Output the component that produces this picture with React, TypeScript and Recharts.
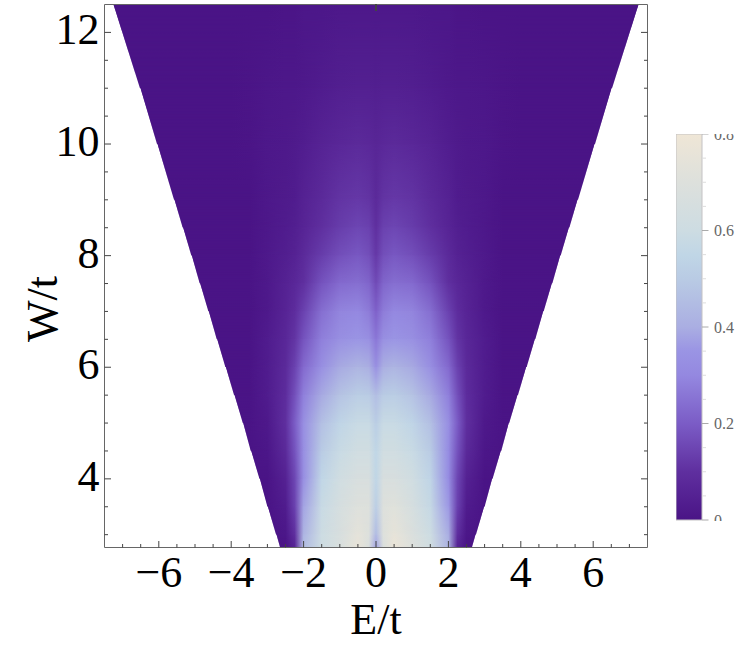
import React from 'react';
import { BarChart, Bar, ComposedChart, ReferenceArea, XAxis, YAxis } from 'recharts';

// E/t positions of the columns, denser near the band edges and the centre dip
const energies = [-7, -6, -5, -4, -3.5, -3, -2.5, -2.25, -2, -1.5, -1, -0.5, -0.2, 0, 0.2, 0.5, 1, 1.5, 2, 2.25, 2.5, 3, 3.5, 4, 5, 6, 7];
const disorder = [2.77, 3, 3.5, 4, 4.5, 5, 5.5, 6, 6.5, 7, 7.5, 8, 8.5, 9, 10, 11, 12.5];
// half width of the filled wedge at each W
const bandEdge = [2.65, 2.76, 3.0, 3.22, 3.46, 3.68, 3.92, 4.16, 4.4, 4.63, 4.87, 5.1, 5.34, 5.58, 6.05, 6.52, 7.25];

const intensity = [
  [0, 0, 0, 0, 0, 0, 0, 0.06, 0.45, 0.6, 0.67, 0.76, 0.68, 0.38, 0.68, 0.78, 0.7, 0.62, 0.42, 0.06, 0, 0, 0, 0, 0, 0, 0],
  [0, 0, 0, 0, 0, 0, 0.01, 0.1, 0.42, 0.6, 0.66, 0.74, 0.7, 0.45, 0.7, 0.75, 0.68, 0.6, 0.4, 0.1, 0.01, 0, 0, 0, 0, 0, 0],
  [0, 0, 0, 0, 0, 0, 0.03, 0.14, 0.38, 0.58, 0.65, 0.7, 0.7, 0.52, 0.7, 0.71, 0.65, 0.57, 0.36, 0.14, 0.03, 0, 0, 0, 0, 0, 0],
  [0, 0, 0, 0, 0, 0, 0.05, 0.15, 0.33, 0.55, 0.62, 0.66, 0.66, 0.55, 0.66, 0.66, 0.62, 0.54, 0.32, 0.15, 0.05, 0, 0, 0, 0, 0, 0],
  [0, 0, 0, 0, 0, 0.01, 0.08, 0.18, 0.33, 0.5, 0.58, 0.62, 0.62, 0.55, 0.62, 0.62, 0.58, 0.5, 0.32, 0.18, 0.08, 0.01, 0, 0, 0, 0, 0],
  [0, 0, 0, 0, 0, 0.02, 0.1, 0.2, 0.33, 0.46, 0.54, 0.58, 0.58, 0.51, 0.58, 0.58, 0.54, 0.46, 0.33, 0.2, 0.1, 0.02, 0, 0, 0, 0, 0],
  [0, 0, 0, 0, 0, 0.03, 0.09, 0.17, 0.28, 0.39, 0.47, 0.51, 0.5, 0.45, 0.5, 0.51, 0.47, 0.39, 0.28, 0.17, 0.09, 0.03, 0, 0, 0, 0, 0],
  [0, 0, 0, 0, 0, 0.03, 0.08, 0.14, 0.23, 0.33, 0.39, 0.42, 0.4, 0.33, 0.4, 0.42, 0.39, 0.33, 0.23, 0.14, 0.08, 0.03, 0, 0, 0, 0, 0],
  [0, 0, 0, 0, 0, 0.03, 0.07, 0.11, 0.18, 0.28, 0.33, 0.35, 0.33, 0.26, 0.33, 0.35, 0.33, 0.28, 0.18, 0.11, 0.07, 0.03, 0, 0, 0, 0, 0],
  [0, 0, 0, 0, 0, 0.02, 0.06, 0.09, 0.14, 0.24, 0.29, 0.3, 0.27, 0.21, 0.27, 0.3, 0.29, 0.24, 0.14, 0.09, 0.06, 0.02, 0, 0, 0, 0, 0],
  [0, 0, 0, 0, 0, 0.02, 0.05, 0.07, 0.1, 0.18, 0.23, 0.24, 0.22, 0.16, 0.22, 0.24, 0.23, 0.18, 0.1, 0.07, 0.05, 0.02, 0, 0, 0, 0, 0],
  [0, 0, 0, 0, 0, 0.02, 0.04, 0.05, 0.08, 0.13, 0.17, 0.19, 0.17, 0.12, 0.17, 0.19, 0.17, 0.13, 0.08, 0.05, 0.04, 0.02, 0, 0, 0, 0, 0],
  [0, 0, 0, 0, 0, 0.015, 0.03, 0.04, 0.06, 0.1, 0.13, 0.15, 0.14, 0.1, 0.14, 0.15, 0.13, 0.1, 0.06, 0.04, 0.03, 0.015, 0, 0, 0, 0, 0],
  [0, 0, 0, 0, 0, 0.015, 0.025, 0.03, 0.05, 0.08, 0.11, 0.12, 0.11, 0.08, 0.11, 0.12, 0.11, 0.08, 0.05, 0.03, 0.025, 0.015, 0, 0, 0, 0, 0],
  [0, 0, 0, 0, 0.005, 0.015, 0.02, 0.025, 0.035, 0.055, 0.07, 0.08, 0.075, 0.065, 0.075, 0.08, 0.07, 0.055, 0.035, 0.025, 0.02, 0.015, 0.005, 0, 0, 0, 0],
  [0, 0, 0, 0, 0.005, 0.01, 0.015, 0.015, 0.02, 0.03, 0.04, 0.045, 0.045, 0.04, 0.045, 0.045, 0.04, 0.03, 0.02, 0.015, 0.015, 0.01, 0.005, 0, 0, 0, 0],
  [0, 0, 0, 0, 0, 0, 0.005, 0.005, 0.01, 0.01, 0.015, 0.015, 0.015, 0.015, 0.015, 0.015, 0.015, 0.01, 0.01, 0.005, 0.005, 0, 0, 0, 0, 0, 0],
];

const colorValues = [0, 0.1, 0.2, 0.3, 0.35, 0.4, 0.5, 0.55, 0.6, 0.7, 0.8];
const colorHex = ['#4a1486', '#5f2f9f', '#7b5cc6', '#9488e0', '#9a94e4', '#aaaee2', '#b9cbe4', '#c0d6e6', '#cddce2', '#dde0dc', '#efe6d6'];

const xMajor = [-6, -4, -2, 0, 2, 4, 6];
const xTicks = [-7, -6.5, -6, -5.5, -5, -4.5, -4, -3.5, -3, -2.5, -2, -1.5, -1, -0.5, 0, 0.5, 1, 1.5, 2, 2.5, 3, 3.5, 4, 4.5, 5, 5.5, 6, 6.5, 7];
const yMajor = [4, 6, 8, 10, 12];
const yTicks = [3, 3.5, 4, 4.5, 5, 5.5, 6, 6.5, 7, 7.5, 8, 8.5, 9, 9.5, 10, 10.5, 11, 11.5, 12];
const barMajor = [0, 0.2, 0.4, 0.6, 0.8];
const barTicks = [0, 0.05, 0.1, 0.15, 0.2, 0.25, 0.3, 0.35, 0.4, 0.45, 0.5, 0.55, 0.6, 0.65, 0.7, 0.75, 0.8];
const barData = [{ name: 'scale', value: 0.8 }];

const FONT = '"Liberation Serif", serif';
const FRAME = '#666666';

const toRgb = (hex: string) => [1, 3, 5].map(i => parseInt(hex.slice(i, i + 2), 16));

// look a value up in the colour scale of the bar
const colorOf = (v: number) => {
  let i = 0;
  while (i < colorValues.length - 2 && v > colorValues[i + 1]) i++;
  const t = Math.min(1, (v - colorValues[i]) / (colorValues[i + 1] - colorValues[i]));
  const a = toRgb(colorHex[i]);
  const b = toRgb(colorHex[i + 1]);
  const c = a.map((ch, k) => Math.round(ch + (b[k] - ch) * t));
  return `rgb(${c[0]},${c[1]},${c[2]})`;
};

const HeatBand = ({ index, x, y, width, height }: any) => {
  const toX = (e: number) => x + (width * (e + 7.5)) / 15;
  const low = bandEdge[index];
  const high = bandEdge[index + 1];
  // lower bands reach a little past their top so no white shows in the joins
  const top = index === disorder.length - 2 ? y : y - 2;
  const points = [
    `${toX(-high)},${top}`,
    `${toX(high)},${top}`,
    `${toX(low)},${y + height}`,
    `${toX(-low)},${y + height}`,
  ].join(' ');
  return (
    <g>
      <clipPath id={`band-${index}`}>
        <polygon points={points} />
      </clipPath>
      <g clipPath={`url(#band-${index})`}>
        <rect x={x} y={top} width={width} height={y + height - top} fill={`url(#row-${index})`} />
        <rect x={x} y={top} width={width} height={y + height - top} fill={`url(#row-${index + 1})`} mask="url(#fadeUp)" />
      </g>
    </g>
  );
};

const xTick = (side: 'bottom' | 'top') => ({ x, y, payload }: any) => {
  const major = xMajor.includes(payload.value);
  const len = major ? 6.5 : 3.5;
  const y2 = side === 'bottom' ? y - len : y + len;
  const label = payload.value < 0 ? `\u2212${-payload.value}` : `${payload.value}`;
  return (
    <g>
      <line x1={x} x2={x} y1={y} y2={y2} stroke="#444" strokeWidth={1} />
      {major && side === 'bottom' && (
        <text x={x} y={y + 39} textAnchor="middle" fontFamily={FONT} fontSize={44} fill="#000">{label}</text>
      )}
    </g>
  );
};

const yTick = (side: 'left' | 'right') => ({ x, y, payload }: any) => {
  const major = yMajor.includes(payload.value);
  const len = major ? 6.5 : 3.5;
  const x2 = side === 'left' ? x + len : x - len;
  return (
    <g>
      <line x1={x} x2={x2} y1={y} y2={y} stroke="#444" strokeWidth={1} />
      {major && side === 'left' && (
        <text x={x - 5} y={y + 12} textAnchor="end" fontFamily={FONT} fontSize={44} fill="#000">{payload.value}</text>
      )}
    </g>
  );
};

const barTick = ({ x, y, payload }: any) => {
  const major = barMajor.includes(payload.value);
  return (
    <g>
      <line x1={x} x2={x + (major ? 6.5 : 4)} y1={y} y2={y} stroke={major ? '#aaa' : '#ddd'} strokeWidth={1} />
      {major && (
        <text x={x + 12} y={y + 5.5} fontFamily={FONT} fontSize={16} fill="#666">{payload.value}</text>
      )}
    </g>
  );
};

export default function App() {
  return (
    <div style={{ position: 'absolute', left: 0, top: 0, width: 747, height: 655 }}>
      <ComposedChart width={747} height={655} data={barData} margin={{ left: 103.5, right: 98.5, top: 3.5, bottom: 106.5 }}>
        <defs>
          {intensity.map((row, i) => (
            <linearGradient key={i} id={`row-${i}`} x1="0" y1="0" x2="1" y2="0">
              {row.map((v, j) => (
                <stop key={j} offset={(energies[j] + 7.5) / 15} stopColor={colorOf(v)} />
              ))}
            </linearGradient>
          ))}
          <linearGradient id="fade" x1="0" y1="1" x2="0" y2="0">
            <stop offset={0} stopColor="#fff" stopOpacity={0} />
            <stop offset={1} stopColor="#fff" stopOpacity={1} />
          </linearGradient>
          <mask id="fadeUp" maskContentUnits="objectBoundingBox">
            <rect x={0} y={0} width={1} height={1} fill="url(#fade)" />
          </mask>
        </defs>
        <XAxis
          xAxisId={0}
          type="number"
          dataKey="value"
          domain={[-7.5, 7.5]}
          ticks={xTicks}
          interval={0}
          height={1}
          tickSize={0}
          tickMargin={0}
          tickLine={false}
          axisLine={{ stroke: FRAME }}
          tick={xTick('bottom')}
          allowDataOverflow
          label={{ value: 'E/t', position: 'bottom', offset: 54, fontFamily: FONT, fontSize: 44, fill: '#000' }}
        />
        <XAxis
          xAxisId="top"
          orientation="top"
          type="number"
          domain={[-7.5, 7.5]}
          ticks={xTicks}
          interval={0}
          height={1}
          tickSize={0}
          tickMargin={0}
          tickLine={false}
          axisLine={{ stroke: FRAME }}
          tick={xTick('top')}
          allowDataOverflow
        />
        <YAxis
          yAxisId={0}
          type="number"
          domain={[2.77, 12.5]}
          ticks={yTicks}
          interval={0}
          width={1}
          tickSize={0}
          tickMargin={0}
          tickLine={false}
          axisLine={{ stroke: FRAME }}
          tick={yTick('left')}
          allowDataOverflow
          label={{ value: 'W/t', angle: -90, position: 'left', offset: 62, fontFamily: FONT, fontSize: 44, fill: '#000' }}
        />
        <YAxis
          yAxisId="right"
          orientation="right"
          type="number"
          domain={[2.77, 12.5]}
          ticks={yTicks}
          interval={0}
          width={1}
          tickSize={0}
          tickMargin={0}
          tickLine={false}
          axisLine={{ stroke: FRAME }}
          tick={yTick('right')}
          allowDataOverflow
        />
        {disorder.slice(0, -1).map((w, i) => (
          <ReferenceArea
            key={w}
            xAxisId={0}
            yAxisId={0}
            x1={-7.5}
            x2={7.5}
            y1={w}
            y2={disorder[i + 1]}
            ifOverflow="visible"
            shape={(p: any) => <HeatBand {...p} index={i} />}
          />
        ))}
      </ComposedChart>

      <div style={{ position: 'absolute', left: 676, top: 134 }}>
        <BarChart width={71} height={387} data={barData} barCategoryGap={0} margin={{ left: 0, right: 44, top: 0, bottom: 1 }}>
          <defs>
            <linearGradient id="scaleFill" x1="0" y1="1" x2="0" y2="0">
              {colorValues.map((v, i) => (
                <stop key={v} offset={v / 0.8} stopColor={colorHex[i]} />
              ))}
            </linearGradient>
          </defs>
          <XAxis dataKey="name" hide />
          <YAxis
            orientation="right"
            type="number"
            domain={[0, 0.8]}
            ticks={barTicks}
            interval={0}
            width={1}
            tickSize={0}
            tickMargin={0}
            tickLine={false}
            axisLine={false}
            tick={barTick}
          />
          <Bar dataKey="value" fill="url(#scaleFill)" stroke="#c4c2c4" strokeWidth={1} isAnimationActive={false} />
        </BarChart>
      </div>
    </div>
  );
}
